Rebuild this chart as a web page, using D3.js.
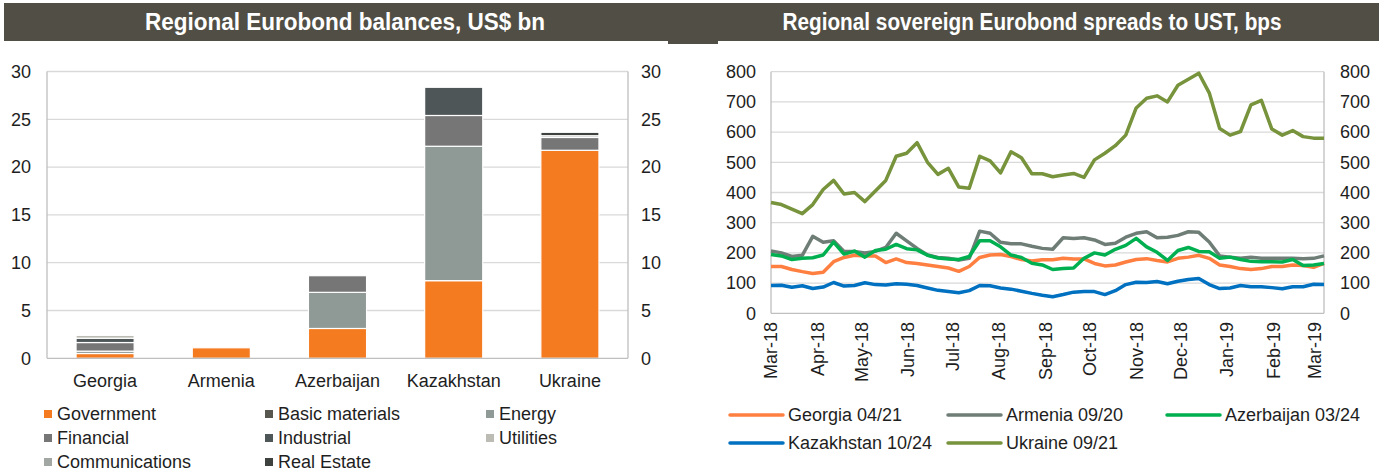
<!DOCTYPE html>
<html>
<head>
<meta charset="utf-8">
<script src="https://cdn.jsdelivr.net/npm/d3@7"></script>
<style>
  body { margin: 0; background: #fff; }
  text { font-family: "Liberation Sans", Arial, sans-serif; fill: #1e1e1e; font-size: 18px; }
</style>
</head>
<body>
<svg id="chart" width="1383" height="472"></svg>
<script>
// ---- left chart data: Eurobond balances, US$ bn ----
const countries = ["Georgia", "Armenia", "Azerbaijan", "Kazakhstan", "Ukraine"];
const sectors = ["Government", "Basic materials", "Energy", "Financial", "Industrial", "Utilities", "Communications", "Real Estate"];
const sectorColors = ["#f47b20", "#57574f", "#8f9996", "#767676", "#4e5657", "#bcbcb4", "#a3a7a3", "#3e423e"];
const government     = [0.5, 1.1, 3.12, 8.12, 21.76];
const basicMaterials = [0, 0, 0, 0, 0];
const energy         = [0.25, 0, 3.78, 14.06, 0];
const financial      = [0.9, 0, 1.74, 3.22, 1.34];
const industrial     = [0.45, 0, 0, 2.95, 0];
const utilities      = [0.3, 0, 0, 0, 0];
const communications = [0, 0, 0, 0, 0.18];
const realEstate     = [0, 0, 0, 0, 0.36];
const balanceTicks = [0, 5, 10, 15, 20, 25, 30];

// ---- right chart data: sovereign spreads to UST, bps (weekly readings) ----
const spreadDates = [
  "2018-03-01", "2018-03-08", "2018-03-15", "2018-03-22", "2018-03-29", "2018-04-05", "2018-04-12", "2018-04-19", "2018-04-26",
  "2018-05-03", "2018-05-10", "2018-05-17", "2018-05-24", "2018-05-31", "2018-06-07", "2018-06-14", "2018-06-21", "2018-06-28",
  "2018-07-05", "2018-07-12", "2018-07-19", "2018-07-26", "2018-08-02", "2018-08-09", "2018-08-16", "2018-08-23", "2018-08-30",
  "2018-09-06", "2018-09-13", "2018-09-20", "2018-09-27", "2018-10-04", "2018-10-11", "2018-10-18", "2018-10-25", "2018-11-01",
  "2018-11-08", "2018-11-15", "2018-11-22", "2018-11-29", "2018-12-06", "2018-12-13", "2018-12-20", "2018-12-27", "2019-01-03",
  "2019-01-10", "2019-01-17", "2019-01-24", "2019-01-31", "2019-02-07", "2019-02-14", "2019-02-21", "2019-02-28", "2019-03-07"
];
const spreadNames = ["Georgia 04/21", "Armenia 09/20", "Azerbaijan 03/24", "Kazakhstan 10/24", "Ukraine 09/21"];
const spreadColors = ["#ff7f41", "#6f7d77", "#00b050", "#0070c0", "#77933c"];
const georgia04_21 = [155, 155, 145, 138, 132, 136, 171, 185, 192, 190, 190, 168, 180, 168, 165, 160, 155, 150,
  139, 155, 185, 193, 195, 188, 178, 173, 177, 177, 182, 180, 180, 165, 157, 160, 170, 178,
  181, 175, 170, 182, 186, 192, 182, 160, 155, 148, 145, 148, 155, 155, 160, 158, 152, 165];
const armenia09_20 = [206, 200, 188, 192, 255, 235, 240, 205, 205, 200, 205, 218, 265, 240, 215, 193, 185, 182,
  176, 182, 272, 265, 235, 230, 230, 222, 215, 212, 250, 248, 250, 243, 228, 232, 252, 265,
  270, 250, 252, 258, 270, 268, 236, 190, 186, 182, 186, 182, 182, 182, 182, 181, 182, 190];
const azerbaijan03_24 = [195, 190, 178, 182, 184, 193, 236, 196, 206, 186, 208, 212, 228, 214, 210, 192, 183, 180,
  178, 188, 240, 240, 220, 193, 185, 166, 160, 145, 148, 150, 182, 200, 193, 212, 225, 248,
  220, 202, 175, 208, 218, 205, 204, 182, 186, 178, 172, 171, 171, 170, 178, 158, 160, 165];
const kazakhstan10_24 = [92, 93, 86, 91, 82, 87, 102, 90, 92, 101, 95, 94, 98, 96, 92, 84, 76, 72,
  68, 75, 92, 91, 84, 80, 73, 66, 60, 55, 62, 70, 72, 72, 62, 75, 95, 103,
  102, 105, 98, 106, 112, 115, 95, 82, 84, 92, 88, 88, 85, 81, 88, 88, 96, 95];
const ukraine09_21 = [367, 360, 345, 330, 360, 410, 440, 395, 400, 370, 405, 440, 520, 530, 565, 500, 460, 480,
  418, 414, 520, 505, 465, 535, 515, 462, 462, 452, 458, 463, 450, 508, 530, 555, 590, 680,
  712, 720, 700, 755, 775, 795, 730, 612, 590, 602, 690, 705, 610, 590, 605, 585, 580, 580];
const spreadTicks = [0, 100, 200, 300, 400, 500, 600, 700, 800];

const svg = d3.select("#chart");
const titleColor = "#514f45";

// title bars
svg.append("rect").attr("x", 4).attr("y", 3).attr("width", 1375).attr("height", 38).attr("fill", titleColor);
svg.append("rect").attr("x", 668).attr("y", 41).attr("width", 50).attr("height", 3).attr("fill", titleColor);
svg.append("text").attr("x", 345).attr("y", 30).attr("text-anchor", "middle")
  .attr("textLength", 400).attr("lengthAdjust", "spacingAndGlyphs")
  .style("font-weight", "bold").style("font-size", "23px").style("fill", "#fff")
  .text("Regional Eurobond balances, US$ bn");
svg.append("text").attr("x", 1032).attr("y", 30).attr("text-anchor", "middle")
  .attr("textLength", 499).attr("lengthAdjust", "spacingAndGlyphs")
  .style("font-weight", "bold").style("font-size", "23px").style("fill", "#fff")
  .text("Regional sovereign Eurobond spreads to UST, bps");

// ================= left: stacked bars =================
const sectorSeries = [government, basicMaterials, energy, financial, industrial, utilities, communications, realEstate];
const rows = countries.map((c, i) => {
  const r = { country: c };
  sectors.forEach((s, j) => { r[s] = sectorSeries[j][i]; });
  return r;
});
const stack = d3.stack().keys(sectors)(rows);

const bx = d3.scaleBand().domain(countries).range([47, 628]).paddingInner(0.5).paddingOuter(0.25);
const by = d3.scaleLinear().domain([0, 30]).range([358.3, 71.5]);
const color = d3.scaleOrdinal().domain(sectors).range(sectorColors);

const left = svg.append("g");
left.append("g").selectAll("line").data(balanceTicks.slice(1)).join("line")
  .attr("x1", 47).attr("x2", 628).attr("y1", d => by(d)).attr("y2", d => by(d))
  .attr("stroke", "#d9d9d9").attr("stroke-width", 1.3);
left.append("line").attr("x1", 47).attr("x2", 47).attr("y1", by(30)).attr("y2", by(0)).attr("stroke", "#bfbfbf").attr("stroke-width", 1.3);
left.append("line").attr("x1", 628).attr("x2", 628).attr("y1", by(30)).attr("y2", by(0)).attr("stroke", "#bfbfbf").attr("stroke-width", 1.3);

left.append("g").selectAll("g").data(stack).join("g")
  .attr("fill", d => color(d.key))
  .selectAll("rect").data(d => d.filter(p => p[1] > p[0])).join("rect")
  .attr("x", d => bx(d.data.country))
  .attr("width", bx.bandwidth())
  .attr("y", d => by(d[1]))
  .attr("height", d => by(d[0]) - by(d[1]))
  .attr("stroke", "#fff").attr("stroke-width", 1.2);

left.append("line").attr("x1", 47).attr("x2", 628).attr("y1", by(0)).attr("y2", by(0)).attr("stroke", "#bfbfbf").attr("stroke-width", 1.3);

left.append("g").selectAll("text").data(balanceTicks).join("text")
  .attr("x", 31).attr("y", d => by(d)).attr("dy", "0.35em").attr("text-anchor", "end")
  .text(d => d);
left.append("g").selectAll("text").data(balanceTicks).join("text")
  .attr("x", 641).attr("y", d => by(d)).attr("dy", "0.35em").attr("text-anchor", "start")
  .text(d => d);
left.append("g").selectAll("text").data(countries).join("text")
  .attr("x", d => bx(d) + bx.bandwidth() / 2).attr("y", 381).attr("dy", "0.35em").attr("text-anchor", "middle")
  .text(d => d);

// legend (3 columns)
const legL = left.append("g").selectAll("g").data(sectors).join("g")
  .attr("transform", (d, i) => `translate(${[44, 265, 486][i % 3]},${414 + Math.floor(i / 3) * 24})`);
legL.append("rect").attr("x", 0).attr("y", -4).attr("width", 8).attr("height", 8).attr("fill", d => color(d));
legL.append("text").attr("x", 13).attr("y", 0).attr("dy", "0.35em").text(d => d);

// ================= right: spread lines =================
const parse = d3.timeParse("%Y-%m-%d");
const dates = spreadDates.map(parse);
const spreadSeries = [georgia04_21, armenia09_20, azerbaijan03_24, kazakhstan10_24, ukraine09_21];

const x = d3.scaleTime().domain(d3.extent(dates)).range([771, 1324]);
const y = d3.scaleLinear().domain([0, 800]).range([313.3, 71.7]);

const right = svg.append("g");
right.append("g").selectAll("line").data(spreadTicks.slice(1)).join("line")
  .attr("x1", 771).attr("x2", 1324).attr("y1", d => y(d)).attr("y2", d => y(d))
  .attr("stroke", "#d9d9d9").attr("stroke-width", 1.3);
right.append("line").attr("x1", 771).attr("x2", 771).attr("y1", y(800)).attr("y2", y(0)).attr("stroke", "#bfbfbf").attr("stroke-width", 1.3);
right.append("line").attr("x1", 1324).attr("x2", 1324).attr("y1", y(800)).attr("y2", y(0)).attr("stroke", "#bfbfbf").attr("stroke-width", 1.3);
right.append("line").attr("x1", 771).attr("x2", 1324).attr("y1", y(0)).attr("y2", y(0)).attr("stroke", "#bfbfbf").attr("stroke-width", 1.3);

const line = d3.line().x((d, i) => x(dates[i])).y(d => y(d));
right.append("g").selectAll("path").data(spreadSeries).join("path")
  .attr("d", d => line(d))
  .attr("fill", "none")
  .attr("stroke", (d, i) => spreadColors[i])
  .attr("stroke-width", 3.5)
  .attr("stroke-linejoin", "round");

right.append("g").selectAll("text").data(spreadTicks).join("text")
  .attr("x", 756).attr("y", d => y(d)).attr("dy", "0.35em").attr("text-anchor", "end")
  .text(d => d);
right.append("g").selectAll("text").data(spreadTicks).join("text")
  .attr("x", 1340).attr("y", d => y(d)).attr("dy", "0.35em").attr("text-anchor", "start")
  .text(d => d);

const months = d3.timeMonth.range(parse("2018-03-01"), parse("2019-03-02"));
const fmt = d3.timeFormat("%b-%y");
right.append("g").selectAll("text").data(months).join("text")
  .attr("transform", d => `translate(${x(d)},322) rotate(-90)`)
  .attr("dy", "0.35em").attr("text-anchor", "end")
  .text(d => fmt(d));

// legend
const legR = right.append("g").selectAll("g").data(spreadNames).join("g")
  .attr("transform", (d, i) => `translate(${[730, 948, 1167][i % 3]},${415 + Math.floor(i / 3) * 28})`);
legR.append("line").attr("x1", 0).attr("x2", 53).attr("y1", 0).attr("y2", 0)
  .attr("stroke", (d, i) => spreadColors[i]).attr("stroke-width", 3.5).attr("stroke-linecap", "round");
legR.append("text").attr("x", 58).attr("y", 0).attr("dy", "0.35em").text(d => d);
</script>
</body>
</html>
